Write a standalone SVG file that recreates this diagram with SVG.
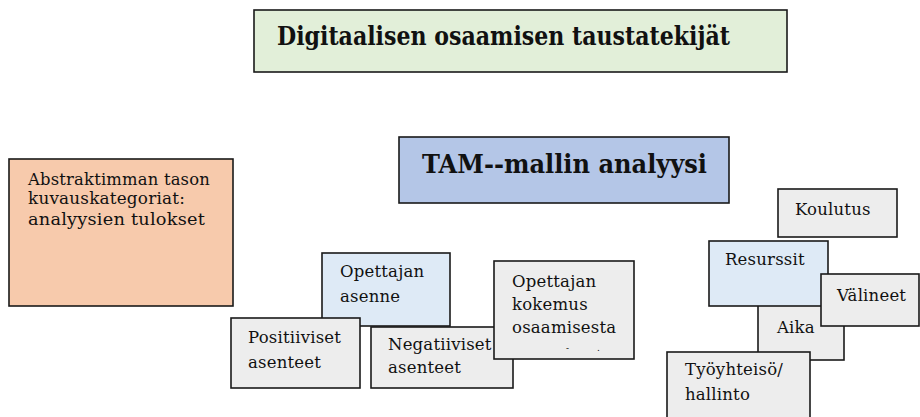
<svg xmlns="http://www.w3.org/2000/svg" width="920" height="417" viewBox="0 0 920 417">
  <style>
    .box { stroke: #1a1a1a; stroke-width: 1.6; }
    .green { fill: #e2efd9; }
    .blue { fill: #b4c6e7; }
    .peach { fill: #f7caac; }
    .pale { fill: #deeaf6; }
    .grey { fill: #ededed; }
    text { font-family: "DejaVu Serif", "Liberation Serif", serif; fill: #111; }
    .title { font-size: 26px; font-weight: bold; }
    .label { font-size: 16.5px; letter-spacing: 0.2px; }
    .mark { font-size: 9px; }
  </style>
  <rect width="920" height="417" fill="#ffffff"/>

  <g id="node-title">
    <rect class="box green" x="254" y="10" width="533" height="62"/>
    <text class="title" x="277" y="45" textLength="453" lengthAdjust="spacingAndGlyphs">Digitaalisen osaamisen taustatekijät</text>
  </g>

  <g id="node-tam">
    <rect class="box blue" x="399" y="137" width="330" height="66"/>
    <text class="title" x="422" y="173" textLength="285" lengthAdjust="spacingAndGlyphs">TAM--mallin analyysi</text>
  </g>

  <g id="node-abstract">
    <rect class="box peach" x="9" y="159" width="224" height="147"/>
    <text class="label" x="28" y="185" textLength="182" lengthAdjust="spacingAndGlyphs">Abstraktimman tason</text>
    <text class="label" x="28" y="204" textLength="157" lengthAdjust="spacingAndGlyphs">kuvauskategoriat:</text>
    <text class="label" x="28" y="225" textLength="177" lengthAdjust="spacingAndGlyphs">analyysien tulokset</text>
  </g>

  <g id="node-asenne">
    <rect class="box pale" x="322" y="253" width="128" height="73"/>
    <text class="label" x="340" y="277">Opettajan</text>
    <text class="label" x="340" y="302">asenne</text>
  </g>

  <g id="node-positiiviset">
    <rect class="box grey" x="231" y="318" width="129" height="70"/>
    <text class="label" x="248" y="343">Positiiviset</text>
    <text class="label" x="248" y="368">asenteet</text>
  </g>

  <g id="node-negatiiviset">
    <rect class="box grey" x="371" y="327" width="142" height="61"/>
    <text class="label" x="388" y="350">Negatiiviset</text>
    <text class="label" x="388" y="373">asenteet</text>
  </g>

  <g id="node-kokemus">
    <rect class="box grey" x="494" y="261" width="140" height="98"/>
    <text class="label" x="512" y="287">Opettajan</text>
    <text class="label" x="512" y="310">kokemus</text>
    <text class="label" x="512" y="333">osaamisesta</text>
    <!-- clipped fourth line: only two specks remain visible -->
    <text class="mark" x="566" y="351">-</text>
    <text class="mark" x="597" y="351">.</text>
  </g>

  <g id="node-koulutus">
    <rect class="box grey" x="778" y="189" width="119" height="48"/>
    <text class="label" x="795" y="215">Koulutus</text>
  </g>

  <g id="node-aika">
    <rect class="box grey" x="758" y="298" width="86" height="62"/>
    <text class="label" x="777" y="333">Aika</text>
  </g>

  <g id="node-resurssit">
    <rect class="box pale" x="709" y="241" width="119" height="65"/>
    <text class="label" x="725" y="265">Resurssit</text>
  </g>

  <g id="node-valineet">
    <rect class="box grey" x="821" y="274" width="98" height="52"/>
    <text class="label" x="837" y="301">Välineet</text>
  </g>

  <g id="node-tyoyhteiso">
    <rect class="box grey" x="667" y="352" width="143" height="70"/>
    <text class="label" x="685" y="375">Työyhteisö/</text>
    <text class="label" x="685" y="400">hallinto</text>
  </g>

  <g id="connectors"></g>
</svg>
